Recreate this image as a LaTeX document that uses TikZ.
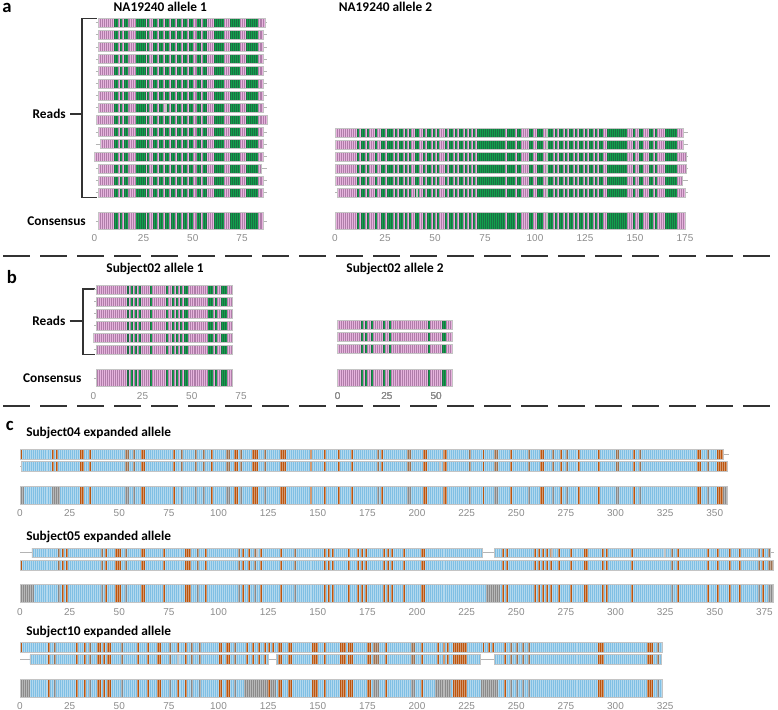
\documentclass[tikz,border=0pt]{standalone}
\usepackage{fontspec}
\setmainfont{Carlito}
\newfontfamily\ticksfont{Liberation Sans}

\definecolor{pinkc}{HTML}{E6B4DD}
\definecolor{greenc}{HTML}{12A04C}
\definecolor{bluec}{HTML}{7FBFE4}
\definecolor{brownc}{HTML}{BA5510}
\definecolor{grayc}{HTML}{8A8A8A}
\definecolor{mixc}{HTML}{9C7252}
\definecolor{framec}{HTML}{C4C4C4}
\definecolor{stubc}{HTML}{B4B4B4}
\definecolor{tickc}{HTML}{8C8C8C}
\definecolor{sepc}{HTML}{333333}
\colorlet{grn}{greenc}
\colorlet{brn}{brownc}
\colorlet{gry}{grayc}
\colorlet{cov}{grayc}
\colorlet{stc}{grayc}

% runs: from/to/colour, in units from the axis origin
\def\runsAone{10/12/grn,13/14/grn,15/17/grn,21/26/grn,27/28/grn,30/32/grn,33/35/grn,36/38/grn,39/41/grn,42/44/grn,45/47/grn,48/50/grn,52/54/grn,55/57/grn,61/66/grn,69/74/grn,77/83/grn}
\def\runsAtwo{11/12/grn,13/15/grn,16/17/grn,20/21/grn,23/25/grn,26/29/grn,30/31/grn,32/34/grn,35/36/grn,37/38/grn,40/42/grn,44/45/grn,46/48/grn,49/50/grn,51/52/grn,55/56/grn,57/59/grn,60/61/grn,62/64/grn,65/66/grn,67/68/grn,69/70/grn,71/85/grn,86/90/grn,91/93/grn,97/99/grn,101/104/grn,106/109/grn,110/111/grn,112/114/grn,115/116/grn,117/119/grn,120/121/grn,122/124/grn,125/126/grn,127/129/grn,130/131/grn,132/134/grn,136/146/grn,149/150/grn,152/154/grn,157/159/grn,160/161/grn,165/171/grn}
\def\runsBone{17/18/grn,19/20/grn,21/22/grn,23/24/grn,29/30/grn,37/38/grn,40/41/grn,42/43/grn,44/45/grn,46/48/grn,58/61/grn,62/63/grn,65/68/grn}
\def\runsBtwo{12/13/grn,14/15/grn,17/18/grn,23/24/grn,26/27/grn,46/47/grn,53/55/grn}
\def\runsFour{0/1/stc,1/2/cov,16/20/cov,16/17/stc,18/19/stc,30/32/brn,35/36/brn,53/55/gry,57/58/gry,61/63/brn,77/78/brn,81/82/gry,88/89/gry,92/93/gry,96/97/brn,104/106/gry,108/110/brn,111/112/gry,117/120/brn,123/124/gry,131/134/brn,146/147/brn,153/154/brn,160/161/brn,167/168/brn,180/181/gry,182/183/brn,195/197/gry,203/205/brn,213/215/brn,226/227/gry,233/234/brn,239/241/gry,247/248/brn,256/257/gry,262/264/brn,268/269/gry,272/273/brn,275/276/gry,281/282/brn,291/292/brn,300/302/gry,309/310/brn,312/313/gry,341/343/brn,346/347/gry,351/354/brn,354/357/stc}
\def\runsFive{0/1/stc,1/7/cov,19/20/gry,21/22/brn,23/24/brn,41/42/gry,43/44/brn,48/51/brn,53/54/gry,61/63/brn,72/73/brn,83/86/brn,89/90/gry,93/94/brn,110/111/gry,112/113/brn,115/116/brn,118/119/gry,121/122/brn,131/132/brn,138/139/gry,153/154/brn,155/156/brn,157/158/brn,165/166/brn,170/171/brn,172/173/brn,174/175/brn,183/184/brn,185/186/brn,187/188/brn,193/194/brn,202/204/brn,235/242/cov,243/244/brn,245/246/brn,259/260/brn,261/262/brn,263/264/brn,265/266/brn,267/268/brn,271/272/brn,277/278/brn,284/286/brn,293/294/brn,295/296/brn,308/309/brn,328/329/gry,331/332/brn,346/347/brn,351/352/brn,357/358/brn,362/363/brn,372/373/gry,374/375/brn,377/380/gry}
\def\runsTen{0/1/stc,1/5/cov,14/15/brn,17/18/gry,28/29/brn,32/33/brn,35/36/gry,39/41/brn,42/43/brn,44/46/brn,51/52/gry,59/60/brn,64/65/brn,69/71/brn,75/76/gry,79/80/brn,83/84/brn,86/87/gry,90/91/gry,100/102/brn,104/106/brn,108/109/gry,113/129/cov,114/115/stc,117/118/stc,120/121/stc,123/124/stc,125/126/brn,127/128/stc,130/132/brn,135/137/brn,147/150/brn,153/154/brn,161/164/brn,165/168/brn,175/177/brn,178/181/gry,184/185/brn,197/199/gry,202/203/brn,209/217/cov,210/211/stc,213/214/stc,215/216/stc,218/225/brn,232/241/cov,233/234/stc,236/237/stc,238/239/stc,244/245/brn,247/248/gry,250/251/gry,253/254/gry,256/257/gry,291/294/brn,316/319/brn,321/322/gry}

% one striped bar: #1 y, #2 height, #3 from, #4 to, #5 base colour, #6 runs
\newcommand{\seqbar}[6]{%
  \begin{scope}
    \clip (\xo+\un*#3,#1-#2/2) rectangle (\xo+\un*#4,#1+#2/2);
    \fill[#5] (\xo+\un*#3,#1-#2/2) rectangle (\xo+\un*#4,#1+#2/2);
    \foreach \rs/\re/\rc in #6
      {\fill[\rc] (\xo+\un*\rs,#1-#2/2) rectangle (\xo+\un*\re,#1+#2/2);}
    \pgfmathtruncatemacro\lo{floor(#3)}%
    \pgfmathtruncatemacro\hi{ceil(#4)}%
    \draw[stripe_line] \foreach \i in {\lo,...,\hi} {(\xo+\un*\i,#1-#2/2) -- ++(0,#2)};
  \end{scope}
  \draw[bar_frame] (\xo+\un*#3,#1-#2/2) rectangle (\xo+\un*#4,#1+#2/2);
}

\begin{document}
\begin{tikzpicture}[x=0.75pt, y=-0.75pt,
    title_style/.style={font=\fontsize{10}{12}\selectfont\bfseries, inner sep=0pt},
    panel_style/.style={font=\fontsize{14}{17}\selectfont\bfseries, inner sep=0pt},
    label_style/.style={font=\fontsize{10}{12}\selectfont\bfseries, inner sep=0pt},
    tick_style/.style={font=\ticksfont\fontsize{7.5}{9}\selectfont, text=tickc, inner sep=0pt},
    stripe_line/.style={line width=0.4pt, draw=violet!40!black, draw opacity=0.3},
    bar_frame/.style={draw=framec, line width=0.5pt},
    stub_line/.style={draw=stubc, line width=0.7pt},
    bracket_line/.style={draw=black!80, line width=1.1pt},
    sep_line/.style={draw=sepc, line width=2.2pt}]
  \useasboundingbox (0,0) rectangle (778,710);

  % panel a
  \node[panel_style, anchor=base west] (pa) at (2,13) {a};
  \node[title_style, anchor=base] (titleA1) at (160.3,11.5) {NA19240 allele 1};
  \node[title_style, anchor=base] (titleA2) at (385.5,11.5) {NA19240 allele 2};
  \node[label_style, anchor=east] (readsA) at (66,114) {Reads};
  \node[label_style, anchor=east] (consA) at (86,221) {Consensus};
  \coordinate (brAt) at (96.5,18.5);
  \coordinate (brAb) at (96.5,197.5);
  \coordinate (brAm) at (82,114);
  \draw[bracket_line] (brAt) -- (brAt -| brAm) -- (brAb -| brAm) -- (brAb);
  \draw[bracket_line] ([xshift=3pt]readsA.east) -- (brAm);

  \def\xo{94.3}\def\un{1.97}
  \foreach \ry/\ra/\rb in {22.7/2/87, 34.85/2/85.8, 47/2/85.8, 59.15/2/85.8, 71.3/2/85.8, 83.45/2/85.8, 95.6/2/85.8, 119.9/1/88, 132.05/2/85.8, 144.2/3/85.8, 156.35/0/85.8, 168.5/2/85, 180.65/2/85.8, 192.8/2/85.8}{
    \draw[stub_line] (\xo+\un*0.7,\ry) -- (\xo+\un*87.7,\ry);
    \seqbar{\ry}{9}{\ra}{\rb}{pinkc}{\runsAone}
  }
  \draw[stub_line] (\xo+\un*0.7,107.75) -- (\xo+\un*87.7,107.75);
  \seqbar{107.75}{9}{2}{36.1}{pinkc}{\runsAone}
  \seqbar{107.75}{9}{36.6}{85.8}{pinkc}{\runsAone}
  \draw[stub_line] (\xo+\un*0.7,221) -- (\xo+\un*87.7,221);
  \seqbar{221}{17}{2}{85.8}{pinkc}{\runsAone}
  \foreach \v in {0,25,50,75}
    \node[tick_style] (axA1-\v) at (\xo+\un*\v,238.5) {\v};

  \def\xo{335}\def\un{2}
  \foreach \ry/\ra/\rb in {132.5/0/174.2, 144.5/0/174.2, 156.5/0/175.8, 168.5/0/175.8, 180.5/0/173.8}{
    \draw[stub_line] (\xo,\ry) -- (\xo+\un*176.5,\ry);
    \seqbar{\ry}{9}{\ra}{105.6}{pinkc}{\runsAtwo}
    \seqbar{\ry}{9}{106.2}{\rb}{pinkc}{\runsAtwo}
  }
  \draw[stub_line] (\xo,192.5) -- (\xo+\un*176.5,192.5);
  \seqbar{192.5}{9}{1.2}{40.5}{pinkc}{\runsAtwo}
  \seqbar{192.5}{9}{41.1}{105.6}{pinkc}{\runsAtwo}
  \seqbar{192.5}{9}{106.2}{175.3}{pinkc}{\runsAtwo}
  \draw[stub_line] (\xo,221) -- (\xo+\un*175,221);
  \seqbar{221}{17}{0}{105.6}{pinkc}{\runsAtwo}
  \seqbar{221}{17}{106.2}{175.3}{pinkc}{\runsAtwo}
  \foreach \v in {0,25,...,175}
    \node[tick_style] (axA2-\v) at (\xo+\un*\v,238.5) {\v};

  % separator between a and b
  \foreach \k in {0,...,21}
    \draw[sep_line] (3+\k*37,256) -- ++(27,0);

  % panel b
  \node[panel_style, anchor=base west] (pb) at (6.5,283.3) {b};
  \node[title_style, anchor=base] (titleB1) at (155,272) {Subject02 allele 1};
  \node[title_style, anchor=base] (titleB2) at (395,272) {Subject02 allele 2};
  \node[label_style, anchor=east] (readsB) at (65.7,321) {Reads};
  \node[label_style, anchor=east] (consB) at (81.7,378) {Consensus};
  \coordinate (brBt) at (95,289);
  \coordinate (brBb) at (95,354.3);
  \coordinate (brBm) at (83,321);
  \draw[bracket_line] (brBt) -- (brBt -| brBm) -- (brBb -| brBm) -- (brBb);
  \draw[bracket_line] ([xshift=3pt]readsB.east) -- (brBm);

  \def\xo{93.3}\def\un{1.97}
  \foreach \ry in {289.5,301.5,313.5,325.5,349.5}{
    \draw[stub_line] (\xo+\un*0.5,\ry) -- (\xo+\un*1.7,\ry);
    \seqbar{\ry}{9}{1.7}{70.5}{pinkc}{\runsBone}
  }
  \seqbar{337.5}{9}{0}{70.5}{pinkc}{\runsBone}
  \draw[stub_line] (\xo+\un*0.5,378) -- (\xo+\un*1.7,378);
  \seqbar{378}{17}{1.7}{70.5}{pinkc}{\runsBone}
  \foreach \v in {0,25,50,75}
    \node[tick_style] (axB1-\v) at (\xo+\un*\v,396) {\v};

  \def\xo{337.7}\def\un{1.97}
  \foreach \ry in {324.5,336.5,348.5}
    \seqbar{\ry}{9}{0}{58}{pinkc}{\runsBtwo}
  \seqbar{378}{17}{0}{58}{pinkc}{\runsBtwo}
  \foreach \v in {0,25,50}
    \node[tick_style] (axB2-\v) at (\xo+\un*\v,396) {\v};

  % separator between b and c
  \foreach \k in {0,...,21}
    \draw[sep_line] (3+\k*37,406) -- ++(27,0);

  % panel c
  \node[panel_style, anchor=base west] (pc) at (5.5,430.7) {c};
  \node[title_style, anchor=base west] (titleC1) at (26,436.5) {Subject04 expanded allele};
  \node[title_style, anchor=base west] (titleC2) at (26,540) {Subject05 expanded allele};
  \node[title_style, anchor=base west] (titleC3) at (26,635.5) {Subject10 expanded allele};

  \begin{scope}[stripe_line/.style={line width=0.45pt, draw=white, draw opacity=0.4}]
  \def\xo{20}\def\un{1.985}
  \begin{scope}
    \colorlet{gry}{mixc}\colorlet{cov}{bluec}\colorlet{stc}{brownc}
    % Subject04 reads
    \draw[stub_line] (\xo,454.2) -- (\xo+\un*357,454.2);
    \seqbar{454.2}{9.5}{0}{354.3}{bluec}{\runsFour}
    \draw[stub_line] (\xo,466.3) -- (\xo+\un*356.3,466.3);
    \seqbar{466.3}{9.5}{0.85}{211.4}{bluec}{\runsFour}
    \seqbar{466.3}{9.5}{211.9}{356.3}{bluec}{\runsFour}
    % Subject05 reads
    \draw[stub_line] (\xo,552.8) -- (\xo+\un*380,552.8);
    \seqbar{552.8}{9.5}{6}{119.2}{bluec}{\runsFive}
    \seqbar{552.8}{9.5}{119.7}{233.1}{bluec}{\runsFive}
    \seqbar{552.8}{9.5}{239}{267.5}{bluec}{\runsFive}
    \seqbar{552.8}{9.5}{268}{324.6}{bluec}{\runsFive}
    \seqbar{552.8}{9.5}{325.1}{378.2}{bluec}{\runsFive}
    \seqbar{565.3}{9.5}{0}{379.5}{bluec}{\runsFive}
    % Subject10 reads
    \seqbar{647.2}{9.5}{0}{323.5}{bluec}{\runsTen}
    \draw[stub_line] (\xo,659.5) -- (\xo+\un*323.5,659.5);
    \seqbar{659.5}{9.5}{5}{79.4}{bluec}{\runsTen}
    \seqbar{659.5}{9.5}{79.9}{125.1}{bluec}{\runsTen}
    \seqbar{659.5}{9.5}{129.3}{232.1}{bluec}{\runsTen}
    \seqbar{659.5}{9.5}{239}{323.3}{bluec}{\runsTen}
  \end{scope}
  % consensus bars
  \seqbar{495}{18}{0}{356.3}{bluec}{\runsFour}
  \seqbar{593.3}{18}{0}{379.5}{bluec}{\runsFive}
  \seqbar{688}{17.7}{0}{323.5}{bluec}{\runsTen}
  \foreach \v in {0,25,...,350}
    \node[tick_style] (axC1-\v) at (\xo+\un*\v,512.7) {\v};
  \foreach \v in {0,25,...,375}
    \node[tick_style] (axC2-\v) at (\xo+\un*\v,611.7) {\v};
  \foreach \v in {0,25,...,325}
    \node[tick_style] (axC3-\v) at (\xo+\un*\v,705.7) {\v};
  \end{scope}
\end{tikzpicture}
\end{document}
